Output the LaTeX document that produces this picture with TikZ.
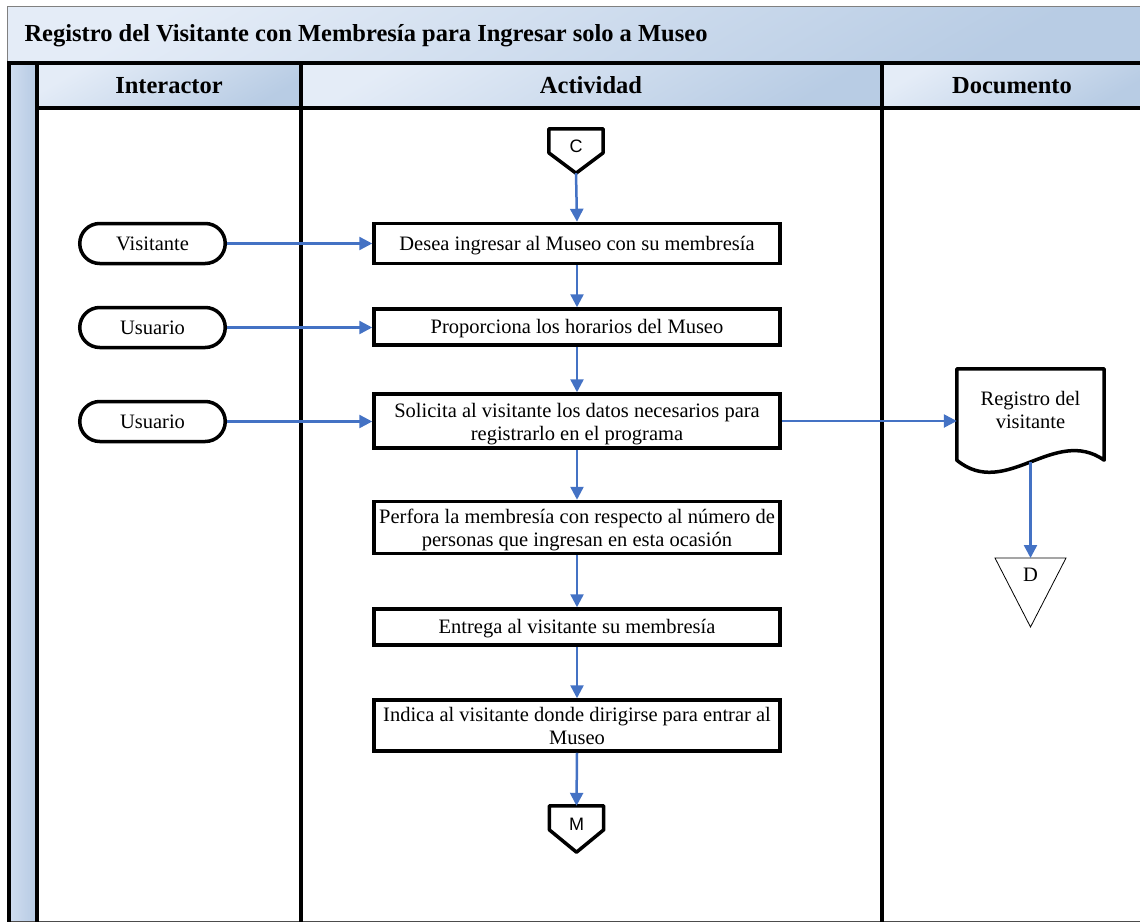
\documentclass[tikz,border=0pt]{standalone}
\usepackage{fontspec}
\setmainfont{Liberation Serif}
\newfontfamily\connfont{Liberation Sans}
\usetikzlibrary{arrows.meta,calc}

\definecolor{flow}{HTML}{4472C4}
\definecolor{hdrlight}{HTML}{E4ECF7}
\definecolor{hdrdark}{HTML}{B8CCE4}
\definecolor{striplight}{HTML}{CFDCEF}

\newcommand\bodysize{\fontsize{20.5}{23}\selectfont}
\newcommand\headsize{\bfseries\fontsize{24.5}{28}\selectfont}
% two centred lines; the box is 40pt above the last baseline and 2pt below it
\newcommand\boxlines[2]{\raisebox{0pt}[40pt][2pt]{\begin{tabular}[b]{@{}c@{}}#1\\#2\end{tabular}}}

\begin{document}
\begin{tikzpicture}[x=1pt,y=-1pt,
  lane/.style={line width=4pt, black},
  hdr/.style={top color=hdrlight, bottom color=hdrdark, shading angle=30},
  actbox/.style={draw, line width=3.5pt, minimum width=406, align=center,
    font=\bodysize, inner sep=0pt},
  oneline/.style={text height=17pt, text depth=4pt},
  term/.style={draw, line width=3.5pt, rounded corners=20pt, minimum width=145.5,
    minimum height=40, font=\bodysize, inner sep=0pt, oneline},
  conn/.style={minimum width=54, inner sep=0pt, text height=13pt, text depth=11pt,
    font=\connfont\fontsize{18}{20}\selectfont},
  connline/.style={line width=3.5pt, line join=round},
  flowarr/.style={flow, line width=2.5pt, -{Triangle[length=13pt,width=13pt]}},
  headtext/.style={anchor=base, font=\headsize},
]
\useasboundingbox (0,0) rectangle (1140,923);

% title bar
\shade[hdr] (7,7) rectangle (1140,63);
\draw[gray, line width=1pt] (7,63) |- (1140,7);
\node[anchor=base west, font=\headsize] (title) at (21,42)
  {Registro del Visitante con Membresía para Ingresar solo a Museo};

% pool: left strip, lane headers and lane borders
\shade[left color=striplight, right color=hdrdark] (10,66) rectangle (35,921);
\shade[hdr] (39,66) rectangle (299,106);
\shade[hdr] (302,66) rectangle (880,106);
\shade[hdr] (884,66) rectangle (1140,106);
\draw[gray!60!black, line width=1pt] (7,921.5) -- (1140,921.5);
\draw[lane] (7,63.5) -- (1140,63.5);
\draw[lane] (9,63) -- (9,922);
\draw[lane] (36.5,63) -- (36.5,922);
\draw[lane] (36.5,108) -- (1140,108);
\draw[lane] (300.5,63) -- (300.5,922);
\draw[lane] (882,63) -- (882,922);

\node[headtext] (hInt) at (169,94) {Interactor};
\node[headtext] (hAct) at (591,94) {Actividad};
\node[headtext] (hDoc) at (1012,94) {Documento};

% off-page connectors
\node[conn, minimum height=44] (C) at (576,151) {C};
\draw[connline] (C.north west) -- (C.north east) -- ($(C.north east)+(0,24)$)
  -- (C.south) -- ($(C.north west)+(0,24)$) -- cycle;
\node[conn, minimum height=46] (M) at (576.5,829) {M};
\draw[connline] (M.north west) -- (M.north east) -- ($(M.north east)+(0,24)$)
  -- (M.south) -- ($(M.north west)+(0,24)$) -- cycle;

% activities
\node[actbox, oneline, minimum height=40] (b1) at (577,243.5) {Desea ingresar al Museo con su membresía};
\node[actbox, oneline, minimum height=36] (b2) at (577,327) {Proporciona los horarios del Museo};
\node[actbox, minimum height=54] (b3) at (577,421)
  {\boxlines{Solicita al visitante los datos necesarios para}{registrarlo en el programa}};
\node[actbox, minimum height=52] (b4) at (577,527.5)
  {\boxlines{Perfora la membresía con respecto al número de}{personas que ingresan en esta ocasión}};
\node[actbox, oneline, minimum height=36] (b5) at (577,627) {Entrega al visitante su membresía};
\node[actbox, minimum height=51] (b6) at (577,725.5)
  {\boxlines{Indica al visitante donde dirigirse para entrar al}{Museo}};

% interactors
\node[term] (t1) at (152.5,243.5) {Visitante};
\node[term] (t2) at (152.5,327.5) {Usuario};
\node[term] (t3) at (152.5,421.5) {Usuario};

% document
\node[inner sep=0pt, minimum width=147, minimum height=80, font=\bodysize]
  (doc) at (1030.5,409) {\boxlines{Registro del}{visitante}};
\draw[line width=3.5pt, line join=round] (doc.north west) -- (doc.north east)
  -- ($(doc.south east)+(0,11)$)
  .. controls ($(doc.south east)+(-50,-24)$) and ($(doc.south west)+(49,51)$)
  .. ($(doc.south west)+(0,11)$) -- cycle;

% off-page reference D
\node[inner sep=0pt, font=\bodysize] (D) at (1030.5,575) {D};
\coordinate (Dtop) at ($(D)+(0,-17)$);
\draw[line width=0.8pt] ($(D)+(-35.5,-17)$) -- ($(D)+(35.5,-17)$) -- ($(D)+(0,52)$) -- cycle;

% flow
\draw[flowarr] (C.south) -- (b1.north);
\draw[flowarr] (b1) -- (b2);
\draw[flowarr] (b2) -- (b3);
\draw[flowarr] (b3) -- (b4);
\draw[flowarr] (b4) -- (b5);
\draw[flowarr] (b5) -- (b6);
\draw[flowarr] (b6.south) -- (M.north);
\draw[flowarr] (t1.east) -- (t1.east -| b1.west);
\draw[flowarr] (t2.east) -- (t2.east -| b2.west);
\draw[flowarr] (t3.east) -- (t3.east -| b3.west);
\draw[flowarr] (b3.east) -- (b3.east -| doc.west);
\draw[flowarr] ($(doc.south)+(0,13)$) -- (Dtop);
\end{tikzpicture}
\end{document}
